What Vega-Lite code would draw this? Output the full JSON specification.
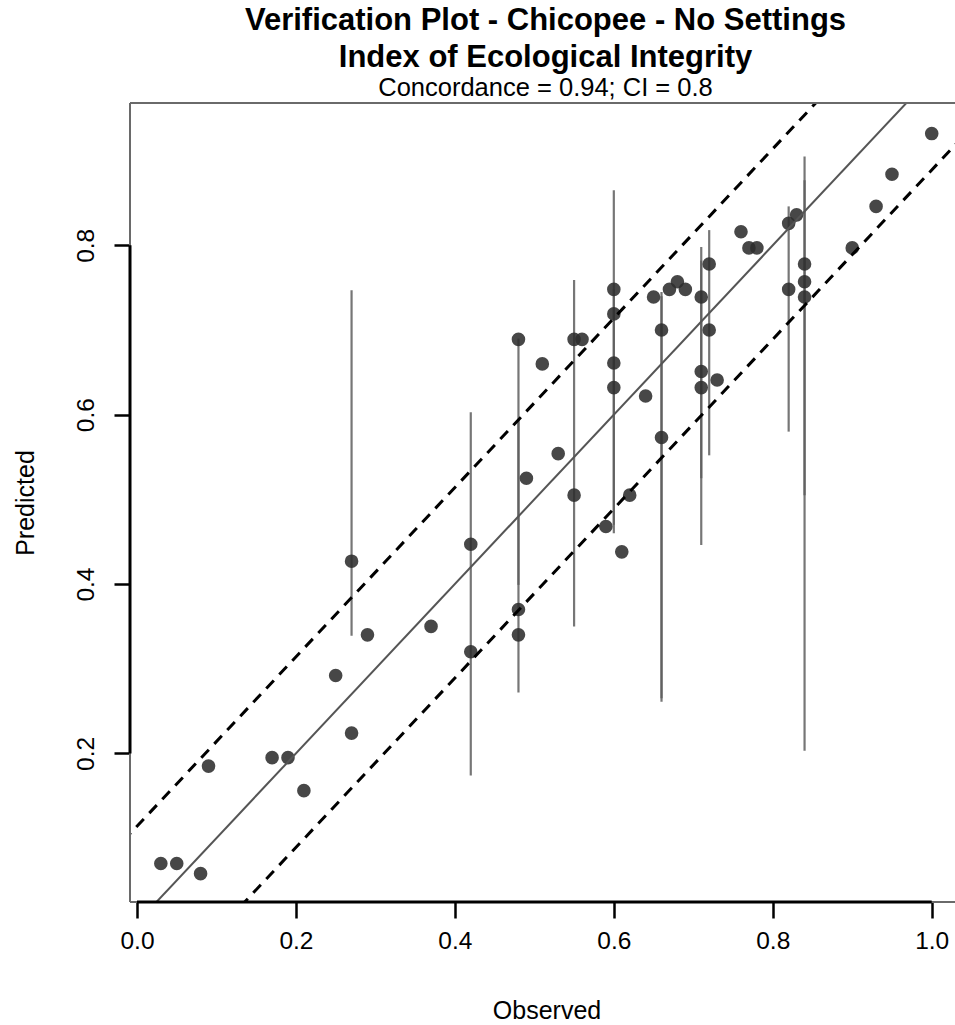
{
  "$schema": "https://vega.github.io/schema/vega-lite/v6.json",
  "width": 825,
  "height": 799,
  "autosize": {"type": "none"},
  "padding": {"left": 130, "top": 103, "right": 0, "bottom": 123},
  "background": "white",
  "config": {
    "view": {"stroke": null},
    "font": "Liberation Sans, Arial, Helvetica, sans-serif",
    "axisX": {
      "format": ".1f",
      "domain": false, "grid": false,
      "tickSize": 16, "tickWidth": 2.5, "tickColor": "black",
      "labelFontSize": 24.5, "labelColor": "black", "labelPadding": 30,
      "labelBaseline": "alphabetic", "labelFlush": false, "labelOverlap": false, "labelBound": false,
      "titleFontSize": 25, "titleFontWeight": "normal", "titleColor": "black",
      "titleBaseline": "alphabetic", "titleX": 416.5, "titleY": 116
    },
    "axisY": {
      "format": ".1f",
      "domain": false, "grid": false,
      "tickSize": 16, "tickWidth": 2.5, "tickColor": "black",
      "labelFontSize": 24.5, "labelColor": "black", "labelPadding": 21,
      "labelAngle": -90, "labelAlign": "center", "labelBaseline": "alphabetic",
      "labelFlush": false, "labelOverlap": false, "labelBound": false,
      "titleFontSize": 25, "titleFontWeight": "normal", "titleColor": "black",
      "titleAngle": -90, "titleBaseline": "alphabetic", "titleAlign": "center",
      "titleX": -97, "titleY": 399.5
    }
  },
  "title": {
    "text": ["Verification Plot - Chicopee - No Settings", "Index of Ecological Integrity"],
    "subtitle": "Concordance = 0.94; CI = 0.8",
    "fontSize": 31,
    "fontWeight": "bold",
    "lineHeight": 37,
    "color": "black",
    "subtitleFontSize": 25.5,
    "subtitleFontWeight": "normal",
    "subtitleColor": "black",
    "subtitlePadding": 2,
    "offset": 0,
    "anchor": "middle",
    "dx": 3
  },
  "datasets": {
    "points": [
      {"obs": 0.03, "pred": 0.07}, {"obs": 0.05, "pred": 0.07}, {"obs": 0.08, "pred": 0.058},
      {"obs": 0.09, "pred": 0.185}, {"obs": 0.17, "pred": 0.195}, {"obs": 0.19, "pred": 0.195},
      {"obs": 0.21, "pred": 0.156}, {"obs": 0.25, "pred": 0.292}, {"obs": 0.27, "pred": 0.224},
      {"obs": 0.27, "pred": 0.427}, {"obs": 0.29, "pred": 0.34}, {"obs": 0.37, "pred": 0.35},
      {"obs": 0.42, "pred": 0.447}, {"obs": 0.42, "pred": 0.32}, {"obs": 0.48, "pred": 0.37},
      {"obs": 0.48, "pred": 0.34}, {"obs": 0.48, "pred": 0.689}, {"obs": 0.49, "pred": 0.525},
      {"obs": 0.51, "pred": 0.66}, {"obs": 0.53, "pred": 0.554}, {"obs": 0.55, "pred": 0.689},
      {"obs": 0.56, "pred": 0.689}, {"obs": 0.55, "pred": 0.505}, {"obs": 0.59, "pred": 0.468},
      {"obs": 0.6, "pred": 0.748}, {"obs": 0.6, "pred": 0.719}, {"obs": 0.6, "pred": 0.661},
      {"obs": 0.6, "pred": 0.632}, {"obs": 0.61, "pred": 0.438}, {"obs": 0.62, "pred": 0.505},
      {"obs": 0.64, "pred": 0.622}, {"obs": 0.65, "pred": 0.739}, {"obs": 0.66, "pred": 0.7},
      {"obs": 0.66, "pred": 0.573}, {"obs": 0.67, "pred": 0.748}, {"obs": 0.68, "pred": 0.757},
      {"obs": 0.69, "pred": 0.748}, {"obs": 0.71, "pred": 0.739}, {"obs": 0.71, "pred": 0.651},
      {"obs": 0.71, "pred": 0.632}, {"obs": 0.72, "pred": 0.778}, {"obs": 0.72, "pred": 0.7},
      {"obs": 0.73, "pred": 0.641}, {"obs": 0.76, "pred": 0.816}, {"obs": 0.77, "pred": 0.797},
      {"obs": 0.78, "pred": 0.797}, {"obs": 0.82, "pred": 0.826}, {"obs": 0.83, "pred": 0.836},
      {"obs": 0.82, "pred": 0.748}, {"obs": 0.84, "pred": 0.778}, {"obs": 0.84, "pred": 0.757},
      {"obs": 0.84, "pred": 0.739}, {"obs": 0.9, "pred": 0.797}, {"obs": 0.93, "pred": 0.846},
      {"obs": 0.95, "pred": 0.884}, {"obs": 1.0, "pred": 0.932}
    ],
    "bars": [
      {"obs": 0.27, "lo": 0.339, "hi": 0.747},
      {"obs": 0.42, "lo": 0.174, "hi": 0.603},
      {"obs": 0.48, "lo": 0.272, "hi": 0.69},
      {"obs": 0.48, "lo": 0.399, "hi": 0.594},
      {"obs": 0.55, "lo": 0.35, "hi": 0.759},
      {"obs": 0.6, "lo": 0.46, "hi": 0.865},
      {"obs": 0.6, "lo": 0.47, "hi": 0.748},
      {"obs": 0.66, "lo": 0.261, "hi": 0.745},
      {"obs": 0.66, "lo": 0.265, "hi": 0.74},
      {"obs": 0.71, "lo": 0.446, "hi": 0.798},
      {"obs": 0.71, "lo": 0.525, "hi": 0.782},
      {"obs": 0.72, "lo": 0.552, "hi": 0.818},
      {"obs": 0.82, "lo": 0.58, "hi": 0.846},
      {"obs": 0.84, "lo": 0.203, "hi": 0.905},
      {"obs": 0.84, "lo": 0.505, "hi": 0.877}
    ],
    "lines": [
      {"kind": "fit", "x1": -0.05, "y1": -0.05, "x2": 1.1, "y2": 1.1},
      {"kind": "upper", "x1": -0.05, "y1": 0.064, "x2": 1.1, "y2": 1.214},
      {"kind": "lower", "x1": -0.05, "y1": -0.161, "x2": 1.1, "y2": 0.989}
    ]
  },
  "layer": [
    {
      "data": {"name": "bars"},
      "mark": {"type": "rule", "color": "#5e5e5e", "strokeWidth": 2.2, "opacity": 0.85},
      "encoding": {
        "x": {
          "field": "obs", "type": "quantitative", "title": "Observed",
          "scale": {"domain": [-0.0088, 1.0293], "nice": false, "zero": false},
          "axis": {"values": [0, 0.2, 0.4, 0.6, 0.8, 1.0]}
        },
        "y": {
          "field": "lo", "type": "quantitative", "title": "Predicted",
          "scale": {"domain": [0.0245, 0.9681], "nice": false, "zero": false},
          "axis": {"values": [0.2, 0.4, 0.6, 0.8]}
        },
        "y2": {"field": "hi"}
      }
    },
    {
      "data": {"name": "points"},
      "mark": {"type": "point", "shape": "circle", "filled": true, "size": 185, "color": "#2e2e2e", "opacity": 0.88},
      "encoding": {
        "x": {"field": "obs", "type": "quantitative", "title": "Observed"},
        "y": {"field": "pred", "type": "quantitative", "title": "Predicted"}
      }
    },
    {
      "data": {"name": "lines"},
      "transform": [{"filter": "datum.kind === 'fit'"}],
      "mark": {"type": "rule", "color": "#555555", "strokeWidth": 2, "clip": true},
      "encoding": {
        "x": {"field": "x1", "type": "quantitative", "title": "Observed"},
        "y": {"field": "y1", "type": "quantitative", "title": "Predicted"},
        "x2": {"field": "x2"},
        "y2": {"field": "y2"}
      }
    },
    {
      "data": {"name": "lines"},
      "transform": [{"filter": "datum.kind !== 'fit'"}],
      "mark": {"type": "rule", "color": "black", "strokeWidth": 3, "strokeDash": [11, 8], "clip": true},
      "encoding": {
        "x": {"field": "x1", "type": "quantitative", "title": "Observed"},
        "y": {"field": "y1", "type": "quantitative", "title": "Predicted"},
        "x2": {"field": "x2"},
        "y2": {"field": "y2"},
        "detail": {"field": "kind"}
      }
    },
    {
      "data": {"values": [{}]},
      "mark": {"type": "rule", "color": "#6a6a6a", "strokeWidth": 2},
      "encoding": {
        "x": {"datum": -0.0088, "type": "quantitative", "title": "Observed"},
        "x2": {"datum": 1.0293},
        "y": {"datum": 0.9681, "type": "quantitative", "title": "Predicted"}
      }
    },
    {
      "data": {"values": [{}]},
      "mark": {"type": "rule", "color": "#6a6a6a", "strokeWidth": 2},
      "encoding": {
        "x": {"datum": -0.0088, "type": "quantitative", "title": "Observed"},
        "y": {"datum": 0.0245, "type": "quantitative", "title": "Predicted"},
        "y2": {"datum": 0.9681}
      }
    },
    {
      "data": {"values": [{}]},
      "mark": {"type": "rule", "color": "#6a6a6a", "strokeWidth": 2},
      "encoding": {
        "x": {"datum": -0.0088, "type": "quantitative", "title": "Observed"},
        "x2": {"datum": 1.0293},
        "y": {"datum": 0.0245, "type": "quantitative", "title": "Predicted"}
      }
    },
    {
      "data": {"values": [{}]},
      "mark": {"type": "rule", "color": "black", "strokeWidth": 3},
      "encoding": {
        "x": {"datum": 0, "type": "quantitative", "title": "Observed"},
        "x2": {"datum": 1},
        "y": {"datum": 0.0245, "type": "quantitative", "title": "Predicted"}
      }
    },
    {
      "data": {"values": [{}]},
      "mark": {"type": "rule", "color": "black", "strokeWidth": 3},
      "encoding": {
        "x": {"datum": -0.0088, "type": "quantitative", "title": "Observed"},
        "y": {"datum": 0.2, "type": "quantitative", "title": "Predicted"},
        "y2": {"datum": 0.8}
      }
    }
  ]
}
